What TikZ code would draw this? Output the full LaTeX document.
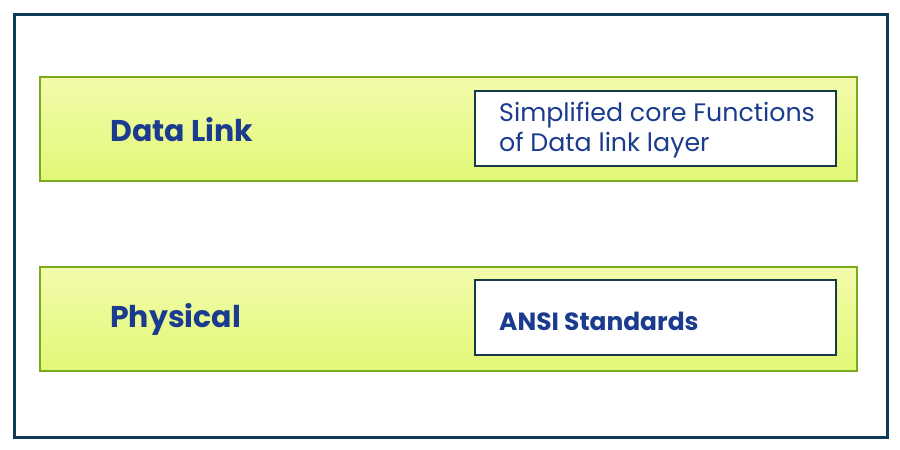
\documentclass[tikz,border=0pt]{standalone}
\usepackage{fontspec}
\setmainfont{Poppins}
\definecolor{frame}{RGB}{14,58,90}
\definecolor{bandedge}{RGB}{122,168,30}
\definecolor{bandtop}{RGB}{243,251,172}
\definecolor{bandbot}{RGB}{226,248,118}
\definecolor{boxedge}{RGB}{22,58,72}
\definecolor{txt}{RGB}{27,60,142}
\begin{document}
\begin{tikzpicture}[x=1pt,y=1pt,
  band/.style={draw=bandedge, line width=2pt, top color=bandtop, bottom color=bandbot,
    minimum width=817pt, minimum height=104pt, inner sep=0pt, outer sep=0pt, anchor=north west},
  infobox/.style={draw=boxedge, line width=2pt, fill=white,
    minimum width=361pt, minimum height=75pt, inner sep=0pt, outer sep=0pt, anchor=north west},
  layer/.style={text=txt, font=\bfseries\fontsize{30}{36}\selectfont, inner sep=0pt, anchor=base west},
  info/.style={text=txt, font=\fontsize{25.3}{30}\selectfont, inner sep=0pt, anchor=base west, align=left},
  infob/.style={text=txt, font=\bfseries\fontsize{24.9}{30}\selectfont, inner sep=0pt, anchor=base west}]
\useasboundingbox (0,0) rectangle (900,450);
\node[draw=frame, line width=3pt, minimum width=873pt, minimum height=423pt, inner sep=0pt, anchor=north west] (outer) at (13,437) {};
\node[band] (dl) at (40,373) {};
\node[infobox] (dlbox) at (475,359) {};
\node[layer] (dlt) at (110,308) {Data Link};
\node[info, anchor=north west] (dlinfo) at (499,347.6) {Simplified core Functions\\of Data link layer};
\node[band] (ph) at (40,183) {};
\node[infobox] (phbox) at (475,170) {};
\node[layer] (pht) at (110,122.5) {Physical};
\node[infob] (phinfo) at (499,119.5) {ANSI Standards};
\end{tikzpicture}
\end{document}
